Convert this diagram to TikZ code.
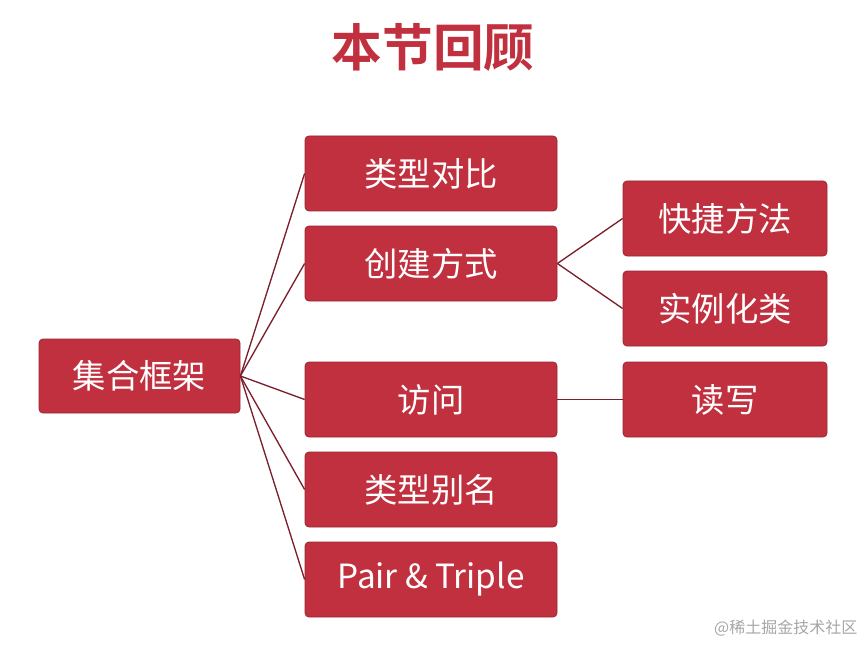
\documentclass[tikz,border=0pt]{standalone}
\usepackage{fontspec}
\setmainfont{Noto Sans CJK SC}
\newfontfamily\cjkbold{Noto Sans CJK SC Bold}
\definecolor{boxred}{HTML}{C1303F}
\definecolor{linered}{HTML}{7A1F2B}
\definecolor{titlered}{HTML}{C1303F}
\begin{document}
\begin{tikzpicture}[x=0.75pt,y=-0.75pt,
  box/.style={draw=boxred!80!black,line width=0.6pt,fill=boxred,rounded corners=3pt,text=white,
    font=\fontsize{25}{28}\selectfont,inner sep=0pt,drop shadow/.try},
  conn/.style={draw=linered,line width=1pt}]
\useasboundingbox (0,0) rectangle (866,645);
\node[text=titlered,font=\cjkbold\fontsize{38}{42}\selectfont] (title) at (433,47) {本节回顾};
\newcommand{\mybox}[5]{\node[box,minimum width={(#3-#2)*0.75pt},minimum height={(#5-#4)*0.75pt}] (#1) at ({(#2+#3)/2},{(#4+#5)/2})}
\mybox{root}{39}{240}{339}{413}{集合框架};
\mybox{a}{305}{557}{136}{211}{类型对比};
\mybox{b}{305}{557}{226}{301}{创建方式};
\mybox{c}{305}{557}{362}{437}{访问};
\mybox{d}{305}{557}{452}{527}{类型别名};
\mybox{e}{305}{557}{542}{617}{Pair \& Triple};
\mybox{f}{623}{827}{181}{256}{快捷方法};
\mybox{g}{623}{827}{271}{346}{实例化类};
\mybox{h}{623}{827}{362}{437}{读写};
\foreach \t in {a,b,c,d,e} \draw[conn] (root.east) -- (\t.west);
\draw[conn] (b.east) -- (f.west);
\draw[conn] (b.east) -- (g.west);
\draw[conn] (c.east) -- (h.west);
\node[text=gray!70,font=\fontsize{12}{14}\selectfont,anchor=east] (wm) at (862,628) {@稀土掘金技术社区};
\end{tikzpicture}
\end{document}
